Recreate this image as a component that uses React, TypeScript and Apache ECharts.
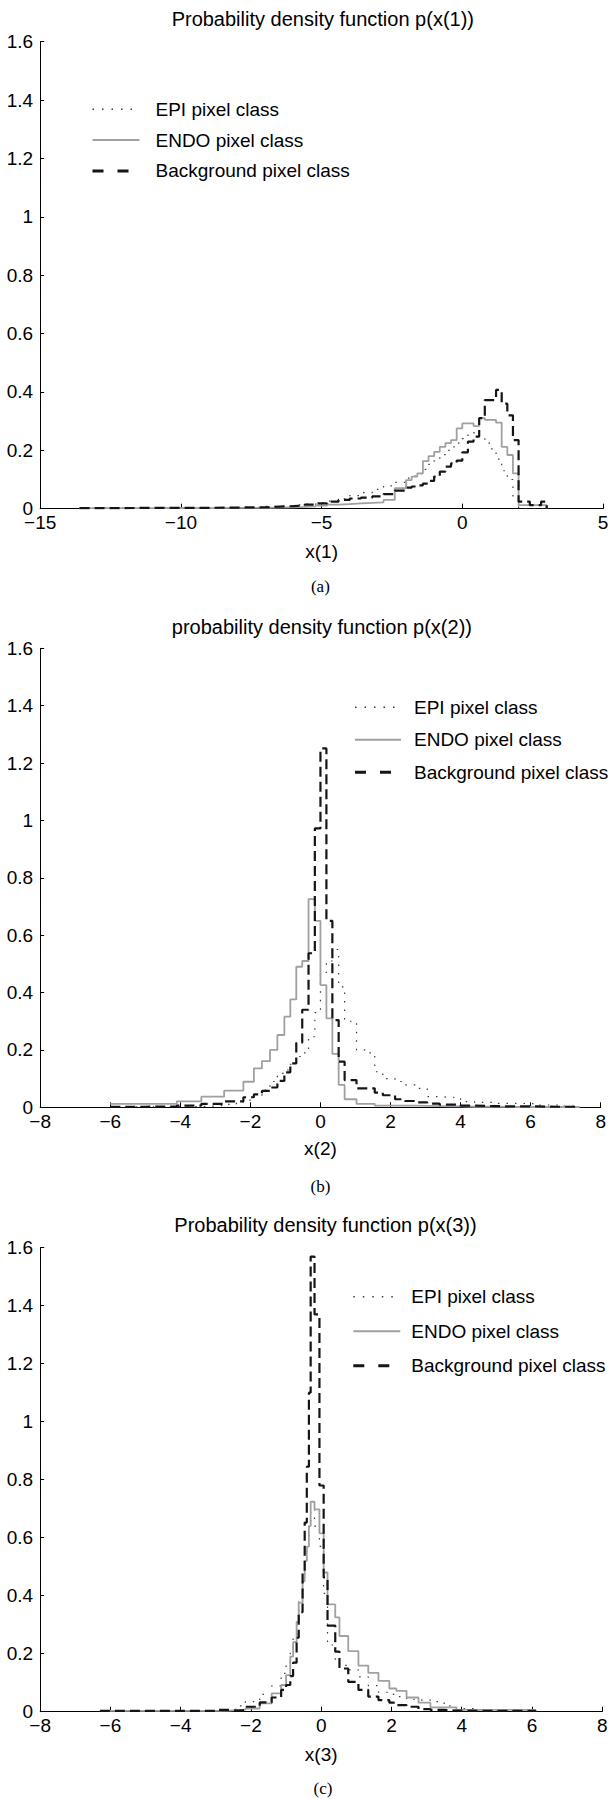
import React, { useEffect, useRef } from "react";
import * as echarts from "echarts";

// ---------- data ----------
const SERIES_NAMES = ["EPI pixel class", "ENDO pixel class", "Background pixel class"];
const TITLES = [
  "Probability density function p(x(1))",
  "probability density function p(x(2))",
  "Probability density function p(x(3))",
];
const X_NAMES = ["x(1)", "x(2)", "x(3)"];
const CAPTIONS = ["(a)", "(b)", "(c)"];

// Panel (a): bin edges (last entry closes the final bin) and densities
const A_EDGES = [-13.6, -13, -12, -11, -10, -9, -8, -7, -6.5, -6, -5.6, -5.2, -4.8, -4.4, -4.0, -3.6, -3.2, -2.8, -2.4, -2.0, -1.8, -1.6, -1.4, -1.2, -1.0, -0.8, -0.6, -0.4, -0.2, 0, 0.2, 0.4, 0.6, 0.8, 1.0, 1.2, 1.4, 1.6, 1.8, 2.0, 2.2, 2.4, 2.6, 2.8, 3.0];
const A_EPI = [0.003, 0.002, 0.003, 0.003, 0.004, 0.003, 0.005, 0.008, 0.01, 0.013, 0.016, 0.02, 0.026, 0.034, 0.045, 0.055, 0.066, 0.078, 0.09, 0.105, 0.112, 0.12, 0.135, 0.152, 0.17, 0.185, 0.2, 0.212, 0.225, 0.24, 0.255, 0.26, 0.245, 0.225, 0.205, 0.17, 0.13, 0.1, 0.04, 0, 0, 0, 0, 0];
const A_ENDO = [0.002, 0.002, 0.002, 0.003, 0.002, 0.003, 0.003, 0.004, 0.005, 0.006, 0.008, 0.011, 0.014, 0.016, 0.018, 0.02, 0.022, 0.03, 0.07, 0.098, 0.11, 0.121, 0.163, 0.18, 0.195, 0.212, 0.225, 0.235, 0.275, 0.292, 0.292, 0.283, 0.31, 0.304, 0.304, 0.295, 0.212, 0.184, 0.121, 0.012, 0.012, 0.012, 0.012, 0.012];
const A_BG = [0.002, 0.002, 0.003, 0.003, 0.003, 0.004, 0.005, 0.007, 0.009, 0.011, 0.014, 0.018, 0.024, 0.03, 0.035, 0.038, 0.042, 0.05, 0.062, 0.072, 0.076, 0.08, 0.086, 0.095, 0.11, 0.127, 0.144, 0.155, 0.165, 0.193, 0.23, 0.247, 0.31, 0.372, 0.372, 0.407, 0.36, 0.32, 0.235, 0.024, 0.024, 0.012, 0.012, 0.024];

// Panel (b)
const B_EDGES = [-6.0, -5.0, -4.1, -3.4, -3.05, -2.75, -2.4, -2.2, -1.9, -1.67, -1.44, -1.23, -1.03, -0.86, -0.69, -0.52, -0.34, -0.16, 0.0, 0.17, 0.34, 0.52, 0.69, 0.86, 1.03, 1.3, 1.55, 1.78, 2.13, 2.41, 2.7, 3.05, 3.4, 3.7, 4.0, 4.4, 5.0, 5.6, 6.2, 6.8, 7.4];
const B_EPI = [0.002, 0.002, 0.003, 0.004, 0.006, 0.01, 0.018, 0.025, 0.04, 0.06, 0.09, 0.118, 0.13, 0.15, 0.177, 0.19, 0.246, 0.33, 0.47, 0.51, 0.55, 0.42, 0.3, 0.3, 0.2, 0.19, 0.124, 0.1, 0.09, 0.078, 0.066, 0.037, 0.035, 0.035, 0.02, 0.017, 0.014, 0.012, 0.008, 0.004];
const B_ENDO = [0.012, 0.012, 0.021, 0.037, 0.037, 0.058, 0.058, 0.089, 0.136, 0.161, 0.2, 0.252, 0.316, 0.376, 0.49, 0.51, 0.726, 0.65, 0.426, 0.31, 0.186, 0.078, 0.028, 0.028, 0.012, 0.012, 0.006, 0.006, 0.006, 0.006, 0.005, 0.004, 0.003, 0.003, 0.002, 0.002, 0.001, 0.001, 0.001, 0.001];
const B_BG = [0.002, 0.003, 0.006, 0.012, 0.012, 0.021, 0.021, 0.035, 0.045, 0.057, 0.069, 0.092, 0.122, 0.153, 0.225, 0.34, 0.537, 0.972, 1.251, 0.65, 0.304, 0.159, 0.095, 0.095, 0.066, 0.066, 0.051, 0.042, 0.028, 0.022, 0.017, 0.013, 0.009, 0.009, 0.006, 0.004, 0.003, 0.003, 0.002, 0.002];

// Panel (c)
const C_EDGES = [-6.3, -5.0, -4.0, -3.0, -2.6, -2.35, -2.16, -1.75, -1.41, -1.14, -1.0, -0.88, -0.8, -0.7, -0.64, -0.53, -0.47, -0.41, -0.35, -0.3, -0.19, -0.05, 0.07, 0.18, 0.4, 0.52, 0.77, 1.06, 1.34, 1.63, 1.94, 2.14, 2.43, 2.77, 3.11, 3.5, 3.85, 4.5, 5.2, 6.1];
const C_EPI = [0.002, 0.003, 0.003, 0.005, 0.008, 0.02, 0.035, 0.06, 0.089, 0.132, 0.167, 0.21, 0.26, 0.31, 0.385, 0.457, 0.52, 0.57, 0.64, 0.7, 0.64, 0.57, 0.408, 0.23, 0.17, 0.16, 0.144, 0.12, 0.09, 0.067, 0.06, 0.052, 0.043, 0.04, 0.035, 0.02, 0.011, 0.006, 0.003];
const C_ENDO = [0.003, 0.003, 0.003, 0.004, 0.006, 0.006, 0.011, 0.029, 0.063, 0.092, 0.126, 0.19, 0.24, 0.31, 0.376, 0.45, 0.52, 0.569, 0.64, 0.724, 0.698, 0.615, 0.48, 0.37, 0.325, 0.261, 0.209, 0.159, 0.134, 0.106, 0.08, 0.072, 0.049, 0.031, 0.015, 0.015, 0.006, 0.006, 0.006];
const C_BG = [0.003, 0.003, 0.003, 0.006, 0.004, 0.006, 0.017, 0.032, 0.049, 0.075, 0.092, 0.123, 0.169, 0.255, 0.343, 0.48, 0.652, 0.845, 1.1, 1.569, 1.37, 0.78, 0.463, 0.297, 0.207, 0.149, 0.103, 0.075, 0.052, 0.04, 0.031, 0.023, 0.017, 0.009, 0.006, 0.004, 0.003, 0.003, 0.003];

const EDGES = [A_EDGES, B_EDGES, C_EDGES];
const VALUES = [
  [A_EPI, A_ENDO, A_BG],
  [B_EPI, B_ENDO, B_BG],
  [C_EPI, C_ENDO, C_BG],
];
const X_RANGES = [
  { min: -15, max: 5, interval: 5 },
  { min: -8, max: 8, interval: 2 },
  { min: -8, max: 8, interval: 2 },
];

// ---------- layout ----------
const FONT = "'Liberation Sans', Arial, Helvetica, sans-serif";
const SERIF = "'Liberation Serif', 'Times New Roman', serif";
const FS = 19;
const LAYOUT = [
  { left: 40.2, top: 41.7, width: 562.8, height: 467, titleX: 322.8, titleTop: 9, nameGap: 33.5,
    legLeft: 91, legTop: 99.8, legGap: 11.8, legW: 47, legPad: 11, capX: 320.4, capY: 586.7 },
  { left: 40.2, top: 648.3, width: 560.5, height: 459, titleX: 321.9, titleTop: 616.7, nameGap: 31.5,
    legLeft: 353.5, legTop: 697.8, legGap: 13.5, legW: 46, legPad: 8, capX: 320.5, capY: 1186 },
  { left: 40.2, top: 1247.7, width: 562, height: 464, titleX: 325.5, titleTop: 1215, nameGap: 32.8,
    legLeft: 351.8, legTop: 1287.2, legGap: 15.5, legW: 47, legPad: 6, capX: 323, capY: 1788.3 },
];

const LINE_STYLES = [
  { color: "#3a3a3a", width: 1.2, type: [1.5, 7] },
  { color: "#a0a0a0", width: 1.8, type: "solid" },
  { color: "#151515", width: 2.2, type: [10, 5] },
];
const LEGEND_LINES = [
  { color: "#3a3a3a", width: 1.5, type: [1.5, 8] },
  { color: "#a0a0a0", width: 2, type: "solid" },
  { color: "#151515", width: 3, type: [11, 14] },
];

function stairs(edges: number[], vals: number[]) {
  return edges.map((e, i) => [e, i < vals.length ? vals[i] : 0]);
}

const minusFmt = (v: number) => String(v).replace("-", "\u2212");

export default function App() {
  const ref = useRef<HTMLDivElement>(null);

  useEffect(() => {
    if (!ref.current) return;
    const chart = echarts.init(ref.current, null, { renderer: "svg" });

    const grid = LAYOUT.map((l) => ({ left: l.left, top: l.top, width: l.width, height: l.height }));

    const xAxis = LAYOUT.map((l, p) => ({
      type: "value",
      gridIndex: p,
      min: X_RANGES[p].min,
      max: X_RANGES[p].max,
      interval: X_RANGES[p].interval,
      name: X_NAMES[p],
      nameLocation: "middle",
      nameGap: l.nameGap,
      nameTextStyle: { fontSize: FS, color: "#000", fontFamily: FONT },
      axisLine: { onZero: false, lineStyle: { color: "#000", width: 1 } },
      axisTick: { inside: true, length: 5, lineStyle: { color: "#000" } },
      axisLabel: { fontSize: FS, lineHeight: 14, color: "#000", fontFamily: FONT, margin: 7, formatter: minusFmt },
      splitLine: { show: false },
    }));

    const yAxis = LAYOUT.map((l, p) => ({
      type: "value",
      gridIndex: p,
      min: 0,
      max: 1.6,
      interval: 0.2,
      axisLine: { show: true, onZero: false, lineStyle: { color: "#000", width: 1 } },
      axisTick: { show: true, inside: true, length: 4, lineStyle: { color: "#000" } },
      axisLabel: { fontSize: FS, lineHeight: 14, color: "#000", fontFamily: FONT, margin: 7 },
      splitLine: { show: false },
    }));

    const series: any[] = [];
    for (let p = 0; p < 3; p++) {
      for (const c of [1, 0, 2]) {
        series.push({
          type: "line",
          name: SERIES_NAMES[c],
          xAxisIndex: p,
          yAxisIndex: p,
          step: "end",
          symbol: "none",
          silent: true,
          data: stairs(EDGES[p], VALUES[p][c]),
          lineStyle: LINE_STYLES[c],
          itemStyle: { color: LINE_STYLES[c].color },
          z: 2 + c,
        });
      }
    }

    const title = LAYOUT.map((l, p) => ({
      text: TITLES[p],
      left: l.titleX,
      top: l.titleTop,
      textAlign: "center",
      padding: 0,
      textStyle: { fontSize: 20, fontWeight: "normal", color: "#000", fontFamily: FONT },
    }));

    const legend = LAYOUT.map((l) => ({
      data: SERIES_NAMES.map((n, i) => ({ name: n, lineStyle: LEGEND_LINES[i] })),
      orient: "vertical",
      left: l.legLeft,
      top: l.legTop,
      itemGap: l.legGap,
      itemWidth: l.legW,
      itemHeight: 19,
      padding: 0,
      selectedMode: false,
      itemStyle: { color: "rgba(0,0,0,0)", borderColor: "rgba(0,0,0,0)", borderWidth: 0, opacity: 0 },
      textStyle: { fontSize: FS, lineHeight: 19, color: "#000", fontFamily: FONT, padding: [0, 0, 0, l.legPad] },
    }));

    const graphic = LAYOUT.map((l, p) => ({
      type: "text",
      x: l.capX,
      y: l.capY,
      style: {
        text: CAPTIONS[p],
        fontSize: 17,
        fontFamily: SERIF,
        fill: "#000",
        align: "center",
        verticalAlign: "middle",
      },
    }));

    chart.setOption({
      animation: false,
      backgroundColor: "#fff",
      title,
      legend,
      grid,
      xAxis,
      yAxis,
      series,
      graphic,
    });

    return () => chart.dispose();
  }, []);

  return (
    <div
      ref={ref}
      style={{ position: "absolute", left: 0, top: 0, width: 616, height: 1799, background: "#fff" }}
    />
  );
}
